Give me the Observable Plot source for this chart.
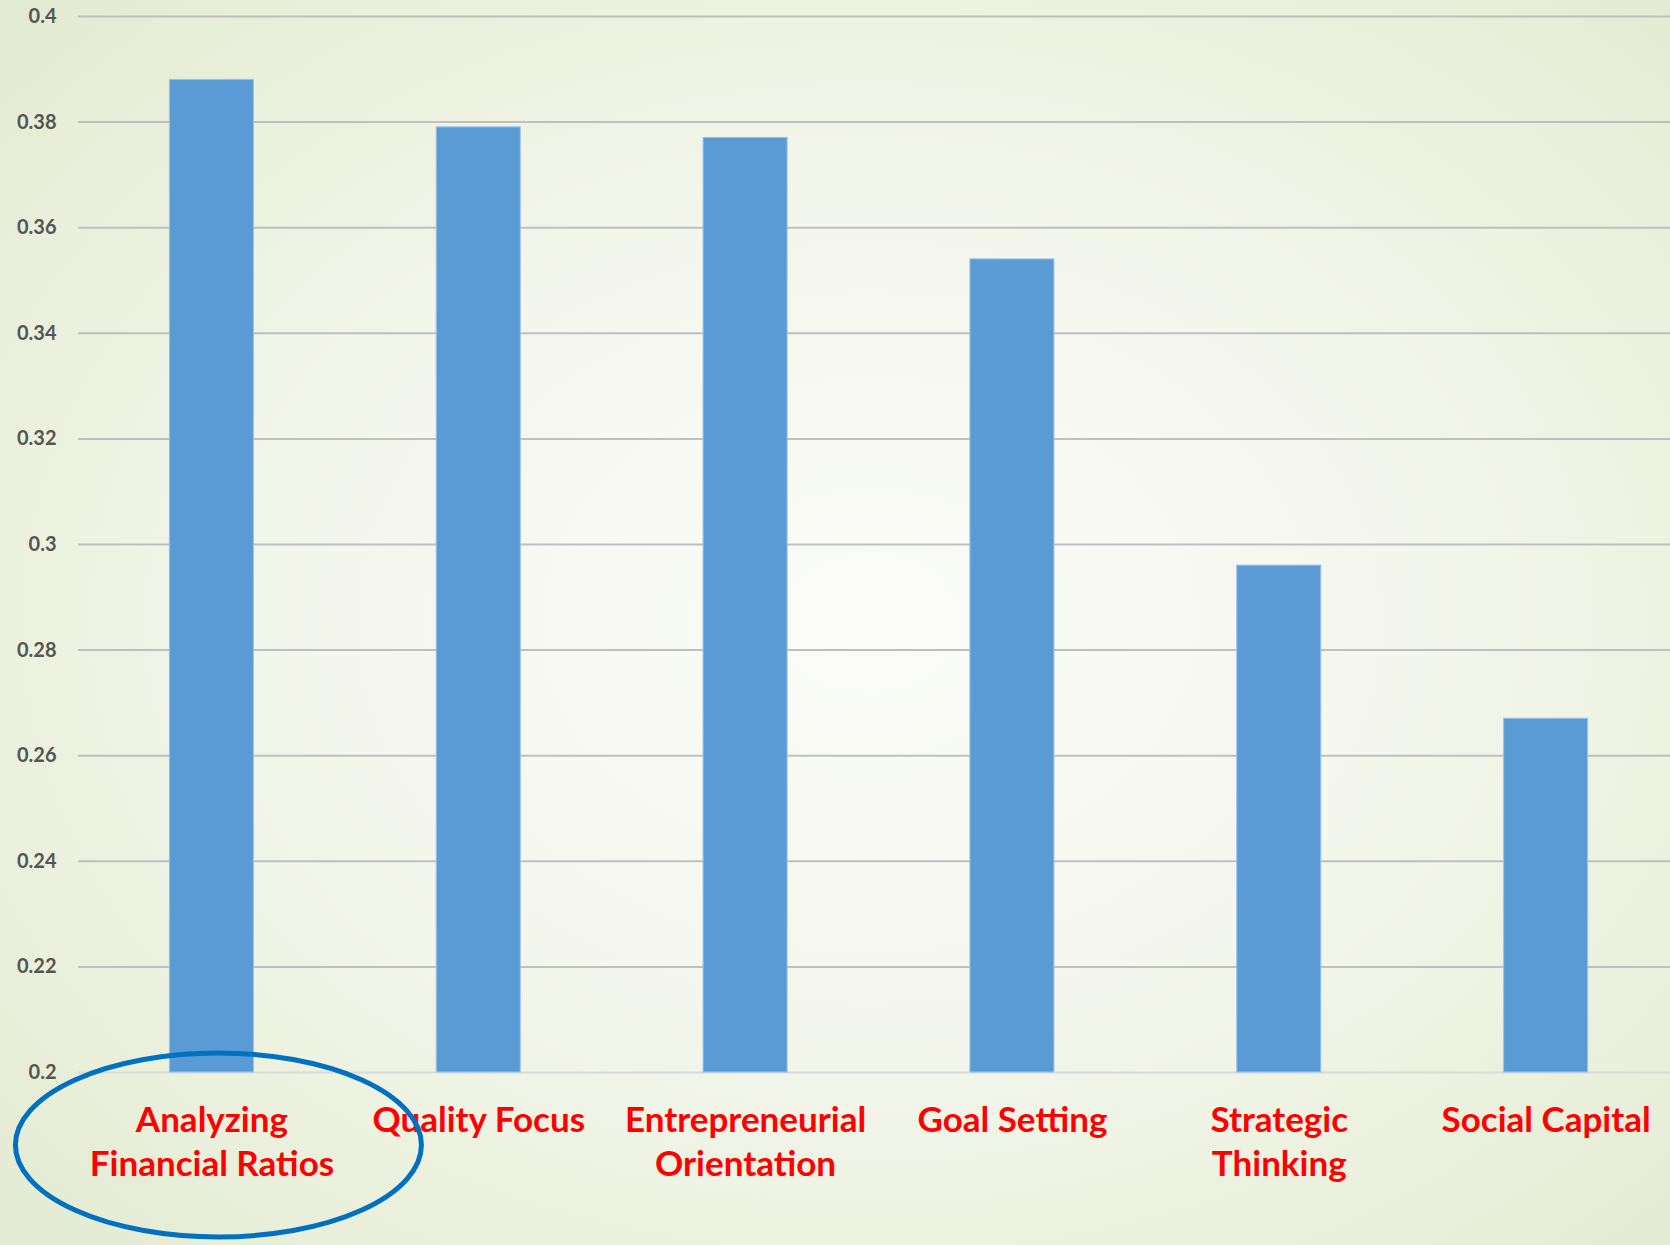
<!DOCTYPE html>
<html>
<head>
<meta charset="utf-8">
<script src="https://cdn.jsdelivr.net/npm/d3@7"></script>
<script src="https://cdn.jsdelivr.net/npm/@observablehq/plot@0.6"></script>
<style>
  html, body { margin: 0; padding: 0; width: 1670px; height: 1245px; overflow: hidden; }
  body {
    background: radial-gradient(ellipse 75% 75% at 52% 50%, #fbfcf8 0%, #f5f7ee 40%, #eaf0dc 75%, #e2e9cf 100%);
  }
  #chart svg { display: block; background: transparent; }
</style>
</head>
<body>
<div id="chart"></div>
<script>
const categories = [
  "Analyzing Financial Ratios",
  "Quality Focus",
  "Entrepreneurial Orientation",
  "Goal Setting",
  "Strategic Thinking",
  "Social Capital"
];
const categoryLabels = [
  "Analyzing\nFinancial Ratios",
  "Quality Focus",
  "Entrepreneurial\nOrientation",
  "Goal Setting",
  "Strategic\nThinking",
  "Social Capital"
];
const values = [0.388, 0.379, 0.377, 0.354, 0.296, 0.267];
const tickValues = [0.2, 0.22, 0.24, 0.26, 0.28, 0.3, 0.32, 0.34, 0.36, 0.38, 0.4];
const tickLabels = ["0.2", "0.22", "0.24", "0.26", "0.28", "0.3", "0.32", "0.34", "0.36", "0.38", "0.4"];

const data = categories.map((c, i) => ({category: c, label: categoryLabels[i], value: values[i]}));
const baseValue = tickValues[0];

const plot = Plot.plot({
  width: 1670,
  height: 1245,
  marginTop: 16,
  marginBottom: 173,
  marginLeft: 78,
  marginRight: 0,
  style: {background: "transparent", overflow: "visible"},
  x: {
    type: "band",
    domain: categories,
    range: [78, 1679],
    paddingInner: 0.685,
    paddingOuter: 0.3425,
    round: false,
    axis: null
  },
  y: {
    domain: [0.2, 0.4],
    axis: null
  },
  marks: [
    Plot.gridY(tickValues.slice(1), {stroke: "#bfbfbf", strokeOpacity: 1, strokeWidth: 2}),
    Plot.ruleY([baseValue], {stroke: "#d9d9d9", strokeWidth: 2}),
    Plot.barY(data, {
      x: "category",
      y1: baseValue,
      y2: "value",
      fill: "#5b9bd5",
      stroke: "#9cc2e8",
      strokeWidth: 1
    }),
    Plot.axisY(tickValues, {
      tickSize: 0,
      tickPadding: 22,
      fontSize: 20,
      fontWeight: "bold",
      fontFamily: "Lato",
      fill: "#555555",
      tickFormat: (d) => tickLabels[tickValues.indexOf(d)],
      label: null
    }),
    Plot.text(data, {
      x: "category",
      y: () => baseValue,
      text: "label",
      fill: "#ff0000",
      fontSize: 35,
      fontWeight: "bold",
      fontFamily: "Lato",
      lineAnchor: "top",
      lineHeight: 1.26,
      dy: 28,
      clip: false
    })
  ]
});

// annotation ellipse around the first category label
const xs = plot.scale("x");
const ys = plot.scale("y");
const cx = xs.apply(categories[0]) + xs.bandwidth / 2 + 7;
const cy = ys.apply(baseValue) + 73;
d3.select(plot).append("ellipse")
  .attr("cx", cx)
  .attr("cy", cy)
  .attr("rx", 203)
  .attr("ry", 92)
  .attr("fill", "none")
  .attr("stroke", "#0070c0")
  .attr("stroke-width", 5);

document.getElementById("chart").appendChild(plot);
</script>
</body>
</html>
